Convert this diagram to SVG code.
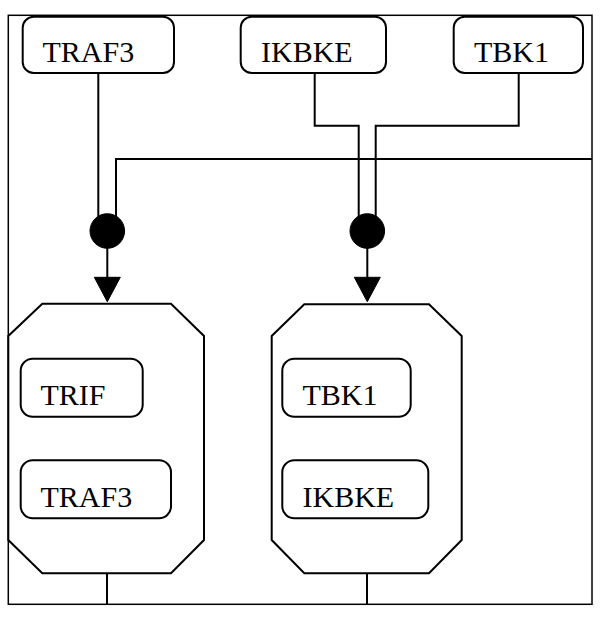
<svg xmlns="http://www.w3.org/2000/svg" width="608" height="623" viewBox="0 0 608 623">
<defs>
<style>
.frame{fill:none;stroke:#000;stroke-width:1.5}
.node{fill:#fff;stroke:#000;stroke-width:2}
.comp{fill:#fff;stroke:#000;stroke-width:2}
.lbl{font-family:"Liberation Serif","Times New Roman",serif;font-size:30px;fill:#000}
.edge{fill:none;stroke:#000;stroke-width:2}
.dot{fill:#000;stroke:#000;stroke-width:1}
.arrow{fill:#000;stroke:#000;stroke-width:1}
</style>
</defs>
<rect width="608" height="623" fill="#fff"/>
<rect id="compartment" class="frame" x="8.3" y="15.3" width="583.7" height="589"/>
<g id="connectors">
<path class="edge" d="M98.3,73 V231"/>
<path class="edge" d="M592,159 H116 V231"/>
<path class="edge" d="M107.3,248 V278"/>
<polygon class="arrow" points="94.3,277.3 120.3,277.3 107.3,301.7"/>
<circle class="dot" cx="107.3" cy="231" r="17.3"/>
<path class="edge" d="M314.7,73 V125.7 H358.7 V231"/>
<path class="edge" d="M518.7,73 V125.7 H375.7 V231"/>
<path class="edge" d="M367.3,248 V278"/>
<polygon class="arrow" points="354.3,277.3 380.3,277.3 367.3,301.7"/>
<circle class="dot" cx="367.3" cy="231" r="17.3"/>
<path class="edge" d="M107,573.3 V604.3"/>
<path class="edge" d="M367,573.3 V604.3"/>
</g>
<g id="node-traf3-top">
<rect class="node" x="22.7" y="16.7" width="151.3" height="56.3" rx="11"/>
<text class="lbl" x="42.5" y="62">TRAF3</text>
</g>
<g id="node-ikbke-top">
<rect class="node" x="240.7" y="16.7" width="145.3" height="56.3" rx="11"/>
<text class="lbl" x="261" y="62">IKBKE</text>
</g>
<g id="node-tbk1-top">
<rect class="node" x="453.7" y="16.7" width="129.3" height="56.3" rx="11"/>
<text class="lbl" x="474" y="62">TBK1</text>
</g>
<g id="complex-trif-traf3">
<polygon class="comp" points="42.3,303.7 171,303.7 204,336 204,540 171,573.3 42.3,573.3 8.3,540 8.3,336"/>
<g id="node-trif">
<rect class="node" x="20.7" y="358.7" width="122" height="58" rx="12"/>
<text class="lbl" x="40.5" y="405">TRIF</text>
</g>
<g id="node-traf3-inner">
<rect class="node" x="20.7" y="460.3" width="150.3" height="58" rx="12"/>
<text class="lbl" x="40.5" y="507.3">TRAF3</text>
</g>
</g>
<g id="complex-tbk1-ikbke">
<polygon class="comp" points="304.3,304.3 429,304.3 461.7,336 461.7,540 429,573.3 304.3,573.3 271.7,540 271.7,336"/>
<g id="node-tbk1-inner">
<rect class="node" x="282.3" y="358.7" width="128.4" height="58" rx="12"/>
<text class="lbl" x="302.5" y="405">TBK1</text>
</g>
<g id="node-ikbke-inner">
<rect class="node" x="282.3" y="460.3" width="146" height="58" rx="12"/>
<text class="lbl" x="302.5" y="507.3">IKBKE</text>
</g>
</g>
</svg>
